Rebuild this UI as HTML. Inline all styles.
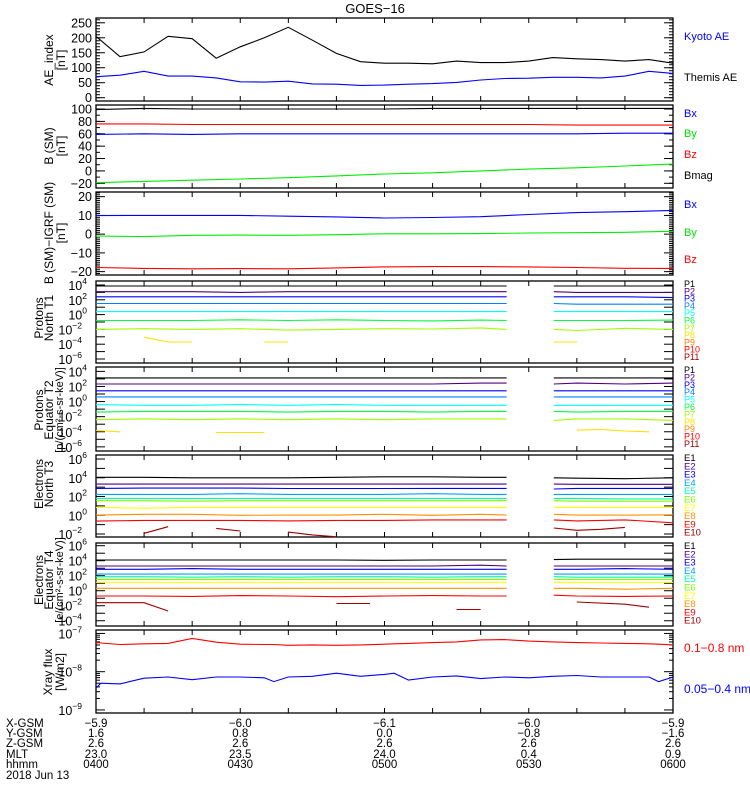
<!DOCTYPE html>
<html><head><meta charset="utf-8"><style>
html,body{margin:0;padding:0;background:#fff;width:750px;height:800px;overflow:hidden}
svg{display:block;font-family:"Liberation Sans",sans-serif}
</style></head><body>
<svg id="chart" width="750" height="800" viewBox="0 0 750 800" xmlns="http://www.w3.org/2000/svg">
<text x="375" y="13" font-size="13" text-anchor="middle">GOES−16</text>
</svg>
<script>
// ---------- data ----------
const tAE = [0,5,10,15,20,25,30,35,40,45,50,55,60,65,70,75,80,85,90,95,100,105,110,115,120];
const themisAE = [205,137,153,205,197,132,170,200,235,192,148,120,115,115,113,122,117,117,122,134,130,127,122,127,115];
const kyotoAE = [70,75,88,72,72,66,53,52,55,46,45,41,42,45,47,51,59,64,65,68,68,66,72,88,81];
const tB = [0,10,20,30,40,50,60,70,80,90,100,110,120];
const bBx = [59,60,59,60,60,60,60,60,60,60,60,61,61];
const bBy = [-19,-17,-15,-13,-11,-8,-5,-3,0,3,5,8,11];
const bBz = [76,76,75,75,75,75,75,75,75,75,74,74,74];
const bBmag = [99,101,100,100,100,100,100,101,101,101,101,101,101];
const dBx = [9.9,10,10,10,9.6,9.2,8.6,8.9,9.3,10.5,11.5,12,12.7];
const dBy = [-1,-1.3,-0.6,-0.5,-0.6,-0.3,0.2,0.2,0.3,0.6,0.8,1,1.5];
const dBz = [-17.8,-18.3,-18.5,-18.4,-18.5,-18,-17.5,-17.3,-17.3,-17.5,-17.8,-18.2,-18.3];
const tP = [0,10,20,30,40,50,60,70,80,85.4,95.2,100,110,120];
const p1N = [3.86,3.86,3.86,3.86,3.86,3.86,3.86,3.86,3.86,3.86,3.86,3.86,3.86,3.86];
const p2N = [3.1,3.1,3.1,3.0,3.1,3.1,3.1,3.1,3.1,3.1,3.1,3.0,3.0,3.0];
const p3N = [2.4,2.4,2.4,2.4,2.4,2.4,2.4,2.4,2.4,2.4,2.4,2.4,2.4,2.3];
const p4N = [1.5,1.5,1.5,1.5,1.5,1.5,1.5,1.5,1.5,1.5,1.5,1.4,1.4,1.4];
const p5N = [0.4,0.4,0.4,0.4,0.4,0.4,0.4,0.4,0.4,0.4,0.4,0.4,0.4,0.4];
const p6N = [-0.8,-0.8,-0.8,-0.7,-0.8,-0.7,-0.8,-0.85,-0.75,-0.8,-0.8,-0.8,-0.8,-0.75];
const p7N = [-2.0,-1.9,-2.0,-1.9,-2.1,-2.0,-1.9,-1.95,-1.8,-2.0,-2.0,-2.15,-1.85,-2.0];
const p1E = [3.14,3.14,3.14,3.14,3.14,3.14,3.14,3.14,3.14,3.14,3.14,3.14,3.14,3.14];
const p2E = [2.33,2.33,2.33,2.33,2.33,2.33,2.33,2.33,2.45,2.45,2.33,2.45,2.33,2.45];
const p3E = [1.43,1.43,1.43,1.43,1.43,1.43,1.43,1.43,1.43,1.43,1.43,1.43,1.43,1.43];
const p4E = [0.62,0.62,0.62,0.62,0.62,0.62,0.62,0.62,0.62,0.62,0.62,0.62,0.62,0.62];
const p5E = [-0.4,-0.5,-0.5,-0.4,-0.5,-0.4,-0.5,-0.5,-0.5,-0.5,-0.5,-0.5,-0.5,-0.5];
const p6E = [-1.4,-1.3,-1.3,-1.3,-1.4,-1.3,-1.3,-1.4,-1.3,-1.3,-1.3,-1.4,-1.3,-1.3];
const p7E = [-2.4,-2.3,-2.4,-2.3,-2.4,-2.3,-2.4,-2.3,-2.3,-2.3,-2.5,-2.3,-2.3,-2.5];
const e1N = [4.05,4.05,4.0,4.0,4.0,4.05,4.1,4.1,4.05,4.05,4.0,3.95,3.9,4.0];
const e2N = [3.33,3.33,3.33,3.33,3.33,3.33,3.33,3.33,3.33,3.33,3.33,3.3,3.3,3.3];
const e3N = [2.87,2.9,2.9,2.9,2.85,2.85,2.85,2.87,2.87,2.87,2.8,2.87,2.87,2.87];
const e4N = [2.23,2.23,2.23,2.3,2.23,2.23,2.23,2.3,2.23,2.23,2.23,2.23,2.23,2.23];
const e5N = [1.8,1.8,1.8,1.8,1.8,1.8,1.8,1.8,1.8,1.8,1.8,1.8,1.75,1.75];
const e6N = [1.55,1.55,1.5,1.55,1.55,1.55,1.55,1.55,1.55,1.55,1.55,1.5,1.5,1.5];
const e7N = [0.84,0.75,0.84,0.84,0.84,0.84,0.84,0.84,0.84,0.84,0.84,0.84,0.84,0.84];
const e8N = [0.02,0.1,0.1,0.0,0.02,0.02,0.1,0.0,0.1,0.02,0.1,0.02,0.02,0.05];
const e9N = [-0.62,-0.55,-0.55,-0.55,-0.6,-0.55,-0.55,-0.5,-0.5,-0.5,-0.5,-0.6,-0.5,-0.8];
const e1E = [4.09,4.09,4.09,4.09,4.09,4.09,4.05,4.09,4.09,4.09,4.15,4.2,4.2,4.2];
const e2E = [3.29,3.29,3.29,3.29,3.29,3.29,3.29,3.29,3.4,3.29,3.29,3.29,3.29,3.29];
const e3E = [2.85,2.85,2.95,2.85,2.85,2.85,2.85,2.85,2.85,2.85,2.85,2.85,2.95,2.85];
const e4E = [2.22,2.22,2.22,2.22,2.22,2.22,2.22,2.22,2.22,2.22,2.22,2.22,2.22,2.22];
const e5E = [1.87,1.87,1.8,1.87,1.8,1.87,1.87,1.8,1.87,1.87,1.87,1.8,1.8,1.8];
const e6E = [1.51,1.51,1.51,1.51,1.51,1.51,1.51,1.51,1.51,1.51,1.51,1.51,1.51,1.51];
const e7E = [1.12,1.12,1.12,1.12,1.12,1.12,1.12,1.12,1.12,1.12,1.12,1.12,1.12,1.12];
const e8E = [0.32,0.32,0.32,0.32,0.32,0.32,0.32,0.32,0.32,0.32,0.32,0.32,0.2,0.32];
const e9E = [-0.7,-0.7,-0.75,-0.65,-0.7,-0.8,-0.7,-0.65,-0.7,-0.7,-0.6,-0.7,-0.75,-0.7];
const tXray = [0,1,5,10,15,20,25,30,35,37,40,45,50,55,60,62,65,70,75,80,85,90,95,100,105,110,115,117,120];
const xrayLong = [-7.24,-7.25,-7.29,-7.27,-7.26,-7.13,-7.23,-7.28,-7.29,-7.29,-7.31,-7.3,-7.31,-7.3,-7.28,-7.27,-7.26,-7.24,-7.22,-7.17,-7.16,-7.2,-7.22,-7.24,-7.25,-7.26,-7.27,-7.28,-7.3];
const xrayShort = [-8.43,-8.3,-8.32,-8.17,-8.14,-8.21,-8.14,-8.14,-8.16,-8.26,-8.14,-8.12,-8.04,-8.12,-8.07,-8.04,-8.22,-8.14,-8.11,-8.18,-8.14,-8.16,-8.12,-8.1,-8.14,-8.14,-8.14,-8.26,-8.14];

const NS='http://www.w3.org/2000/svg';
const svg=document.getElementById('chart');
const X0=96, X1=673, TMAX=120;
const GAP0=85.4, GAP1=95.2;
function xs(t){return X0+(X1-X0)*t/TMAX;}
function mk(tag,attrs,parent){const e=document.createElementNS(NS,tag);for(const k in attrs)e.setAttribute(k,attrs[k]);(parent||svg).appendChild(e);return e;}

function makePanel(name,top,bot,ymin,ymax){
  const g=mk('g',{});
  
  
  const ys=v=>bot-(v-ymin)/(ymax-ymin)*(bot-top);
  const fr=mk('rect',{x:X0,y:top,width:X1-X0,height:bot-top,fill:'none',stroke:'#000','stroke-width':1.3},g);
  
  
  for(let t=0;t<=TMAX;t+=10){const x=xs(t);
    mk('line',{x1:x,x2:x,y1:bot,y2:bot-5,stroke:'#000'},g);
    mk('line',{x1:x,x2:x,y1:top,y2:top+5,stroke:'#000'},g);}
  return {g,ys,top,bot};
}
function linTicks(p,vals,labels,minorStep,ymin,ymax){
  for(let v=Math.ceil(ymin/minorStep)*minorStep;v<=ymax;v+=minorStep){const y=p.ys(v);
    mk('line',{x1:X0,x2:X0+4,y1:y,y2:y,stroke:'#000'},p.g);mk('line',{x1:X1,x2:X1-4,y1:y,y2:y,stroke:'#000'},p.g);}
  vals.forEach((v,i)=>{const y=p.ys(v);
    mk('line',{x1:X0,x2:X0+9,y1:y,y2:y,stroke:'#000'},p.g);mk('line',{x1:X1,x2:X1-9,y1:y,y2:y,stroke:'#000'},p.g);
    const t=mk('text',{x:X0-4,y:y+4.5,'font-size':12.5,'text-anchor':'end'},p.g);t.textContent=labels[i];
    
    });
}
function logTicks(p,decs,labeled,minor){
  decs.forEach(d=>{const y=p.ys(d);
    mk('line',{x1:X0,x2:X0+9,y1:y,y2:y,stroke:'#000'},p.g);mk('line',{x1:X1,x2:X1-9,y1:y,y2:y,stroke:'#000'},p.g);
    if(minor){for(let m=2;m<10;m++){const ym=p.ys(d+Math.log10(m));if(ym<p.top)continue;
      mk('line',{x1:X0,x2:X0+4,y1:ym,y2:ym,stroke:'#000'},p.g);mk('line',{x1:X1,x2:X1-4,y1:ym,y2:ym,stroke:'#000'},p.g);}}
    if(labeled.includes(d)){const t=mk('text',{x:X0-13,y:y+5,'font-size':12.5,'text-anchor':'end'},p.g);t.textContent='10';
      const s=mk('tspan',{'font-size':8.5,dy:-6},t);s.textContent=(d<0?'−':'')+Math.abs(d);
      t.setAttribute('x',X0-4-(String(Math.abs(d)).length+(d<0?1:0))*5);
      
      }
  });
}
function series(p,name,t,v,color,useGap){
  let pts=[];const segs=[];
  for(let i=0;i<t.length;i++){
    if(v[i]===null){if(pts.length)segs.push(pts);pts=[];continue;}
    if(useGap&&i>0&&t[i-1]<=GAP0&&t[i]>=GAP1){if(pts.length)segs.push(pts);pts=[];}
    pts.push(xs(t[i]).toFixed(1)+','+p.ys(v[i]).toFixed(1));
  }
  if(pts.length)segs.push(pts);
  segs.forEach(s=>{const pl=mk('polyline',{points:s.join(' '),fill:'none',stroke:color,'stroke-width':1.1},p.g);
    
    });
}
function rlabel(text,y,color,name,size){const t=mk('text',{x:684,y:y,'font-size':size||11,fill:color});t.textContent=text;
  
  }
function ylabel(lines,cy,name,xsPos){lines.forEach((l,i)=>{const x=xsPos[i];
  const fs=(l.length>14&&l.charAt(0)==='[')?11:12;
  const t=mk('text',{x:0,y:0,'font-size':fs,'text-anchor':'middle',transform:`translate(${x},${cy}) rotate(-90)`});t.textContent=l;
  
  });}

// Panel 1 AE
let p=makePanel('ae-index-panel',18,101,-11,266);
linTicks(p,[0,50,100,150,200,250],['0','50','100','150','200','250'],10,0,260);
series(p,'themis-ae-line',tAE,themisAE,'#000');
series(p,'kyoto-ae-line',tAE,kyotoAE,'#0000ff');
ylabel(['AE_index','[nT]'],60,'ae-axis-title',[53,65]);
rlabel('Kyoto AE',40,'#0000ff','legend-kyoto-ae');rlabel('Themis AE',81,'#000','legend-themis-ae');
// Panel 2 B
p=makePanel('b-sm-panel',105,188,-27.6,106.5);
linTicks(p,[-20,0,20,40,60,80,100],['−20','0','20','40','60','80','100'],10,-20,100);
series(p,'bmag-line',tB,bBmag,'#000');series(p,'bz-line',tB,bBz,'#ff0000');
series(p,'bx-line',tB,bBx,'#0000ff');series(p,'by-line',tB,bBy,'#00ee00');
ylabel(['B (SM)','[nT]'],146,'b-axis-title',[53,65]);
rlabel('Bx',117,'#0000ff','legend-bx');rlabel('By',137,'#00e000','legend-by');rlabel('Bz',158,'#ff0000','legend-bz');rlabel('Bmag',179,'#000','legend-bmag');
// Panel 3
p=makePanel('b-minus-igrf-panel',192,275,-21.8,22.5);
linTicks(p,[-20,-10,0,10,20],['−20','−10','0','10','20'],1,-21,22);
series(p,'dbx-line',tB,dBx,'#0000ff');series(p,'dby-line',tB,dBy,'#00ee00');series(p,'dbz-line',tB,dBz,'#ff0000');
ylabel(['B (SM)−IGRF (SM)','[nT]'],233,'b-igrf-axis-title',[53,65]);
rlabel('Bx',208,'#0000ff','legend-dbx');rlabel('By',236,'#00e000','legend-dby');rlabel('Bz',263,'#ff0000','legend-dbz');

const pCols=['#000','#500080','#0000ff','#0080ff','#00ffff','#00ff40','#a0ff00','#ffe000','#ff8000','#ff0000','#a00000'];
const eCols=['#000','#500080','#0000ff','#00a0ff','#00ffa0','#80ff00','#ffff00','#ff9000','#ff0000','#a00000'];
// Panel 4
p=makePanel('protons-north-t1-panel',281,363,-6.54,4.54);
logTicks(p,[-6,-5,-4,-3,-2,-1,0,1,2,3,4],[-6,-4,-2,0,2,4]);
[p1N,p2N,p3N,p4N,p5N,p6N,p7N].forEach((s,i)=>series(p,'proton-north-p'+(i+1),tP,s,pCols[i],true));
series(p,'proton-north-p8',[10,15,20],[-3.07,-3.7,-3.7],pCols[7]);
series(p,'proton-north-p8',[35,40],[-3.7,-3.7],pCols[7]);
series(p,'proton-north-p8',[95.2,100],[-3.7,-3.7],pCols[7]);
ylabel(['Protons','North T1'],318,'protons-north-axis-title',[43,53]);
for(let i=0;i<11;i++)rlabel('P'+(i+1),287+i*7.3,pCols[i],'legend-north-p'+(i+1),9);
// Panel 5
p=makePanel('protons-equator-t2-panel',367,451,-6.55,4.58);
logTicks(p,[-6,-5,-4,-3,-2,-1,0,1,2,3,4],[-6,-4,-2,0,2,4]);
[p1E,p2E,p3E,p4E,p5E,p6E,p7E].forEach((s,i)=>series(p,'proton-equator-p'+(i+1),tP,s,pCols[i],true));
series(p,'proton-equator-p8',[0,5],[-3.84,-4.0],pCols[7]);
series(p,'proton-equator-p8',[25,35],[-4.1,-4.1],pCols[7]);
series(p,'proton-equator-p8',[100,105,110,115],[-3.8,-3.7,-3.9,-4.0],pCols[7]);
ylabel(['Protons','Equator T2','[p/(cm²-s-sr-keV)]'],410,'protons-equator-axis-title',[43,53,63]);
for(let i=0;i<11;i++)rlabel('P'+(i+1),373+i*7.4,pCols[i],'legend-equator-p'+(i+1),9);
// Panel 6
p=makePanel('electrons-north-t3-panel',455,537,-2.32,6.43);
logTicks(p,[-2,-1,0,1,2,3,4,5,6],[-2,0,2,4,6]);
[e1N,e2N,e3N,e4N,e5N,e6N,e7N,e8N,e9N].forEach((s,i)=>series(p,'electron-north-e'+(i+1),tP,s,eCols[i],true));
series(p,'electron-north-e10',[10,15],[-1.93,-1.22],eCols[9]);
series(p,'electron-north-e10',[25,30],[-1.4,-1.68],eCols[9]);
series(p,'electron-north-e10',[40,45,50],[-1.8,-2.1,-2.3],eCols[9]);
series(p,'electron-north-e10',[95.2,100,105,110],[-1.36,-1.6,-1.5,-1.3],eCols[9]);
ylabel(['Electrons','North T3'],484,'electrons-north-axis-title',[43,53]);
for(let i=0;i<10;i++)rlabel('E'+(i+1),461+i*8.3,eCols[i],'legend-north-e'+(i+1),9.5);
// Panel 7
p=makePanel('electrons-equator-t4-panel',543,626,-4.7,6.36);
logTicks(p,[-4,-3,-2,-1,0,1,2,3,4,5,6],[-4,-2,0,2,4,6]);
[e1E,e2E,e3E,e4E,e5E,e6E,e7E,e8E,e9E].forEach((s,i)=>series(p,'electron-equator-e'+(i+1),tP,s,eCols[i],true));
series(p,'electron-equator-e10',[0,10,15],[-1.6,-1.6,-2.7],eCols[9]);
series(p,'electron-equator-e10',[50,57],[-1.7,-1.7],eCols[9]);
series(p,'electron-equator-e10',[75,80],[-2.5,-2.5],eCols[9]);
series(p,'electron-equator-e10',[100,110,115],[-1.5,-1.8,-2.2],eCols[9]);
ylabel(['Electrons','Equator T4','[e/(cm²-s-sr-keV)]'],580,'electrons-equator-axis-title',[43,53,63]);
for(let i=0;i<10;i++)rlabel('E'+(i+1),549+i*8.3,eCols[i],'legend-equator-e'+(i+1),9.5);
// Panel 8 Xray
p=makePanel('xray-flux-panel',630,713,-9.08,-6.91);
logTicks(p,[-9,-8,-7],[-9,-8,-7],true);
series(p,'xray-long-line',tXray,xrayLong,'#ff0000');
series(p,'xray-short-line',tXray,xrayShort,'#0000ff');
ylabel(['Xray flux','[W/m2]'],672,'xray-axis-title',[52,64]);
rlabel('0.1−0.8 nm',652,'#ff0000','legend-xray-long',12);rlabel('0.05−0.4 nm',693,'#0000ff','legend-xray-short',12);

// Bottom x-axis annotation
const rowNames=['X-GSM','Y-GSM','Z-GSM','MLT','hhmm'];
const rowVals=[['−5.9','−6.0','−6.1','−6.0','−5.9'],['1.6','0.8','0.0','−0.8','−1.6'],['2.6','2.6','2.6','2.6','2.6'],['23.0','23.5','24.0','0.4','0.9'],['0400','0430','0500','0530','0600']];
const rowY=[727,737,747,758,768];
const tickT=[0,30,60,90,120];
rowNames.forEach((n,r)=>{const t=mk('text',{x:6,y:rowY[r],'font-size':11.5});t.textContent=n;
  
  
  rowVals[r].forEach((v,i)=>{const tv=mk('text',{x:xs(tickT[i]),y:rowY[r],'font-size':11.5,'text-anchor':'middle'});tv.textContent=v;
    
    });});
const dt=mk('text',{x:6,y:779,'font-size':11.5});dt.textContent='2018 Jun 13';


</script>
</body></html>
